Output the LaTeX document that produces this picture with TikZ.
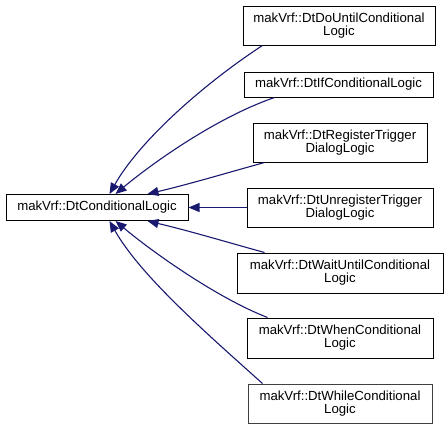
\documentclass[tikz,border=0pt]{standalone}
\usepackage{fontspec}
\setmainfont{Liberation Sans}
\usetikzlibrary{arrows.meta}
\begin{document}
\begin{tikzpicture}[x=1pt,y=-1pt,
  cls/.style={draw=black, line width=1pt, fill=white, inner sep=0pt, align=center,
    font=\fontsize{13.2}{13}\selectfont},
  edge/.style={draw={rgb,255:red,25;green,25;blue,112}, line width=1.1pt,
    {Triangle[length=11pt,width=9pt]}-}]
\useasboundingbox (0,0) rectangle (448,429);
\node[cls, minimum width=182pt, minimum height=26pt] (base) at (97,207.5) {makVrf::DtConditionalLogic};
\node[cls, minimum width=192pt, minimum height=39pt] (dou) at (339,25.5) {makVrf::DtDoUntilConditional\\Logic};
\node[cls, minimum width=189pt, minimum height=25pt] (dif) at (338.5,84.5) {makVrf::DtIfConditionalLogic};
\node[cls, minimum width=174pt, minimum height=39pt] (reg) at (340,142.5) {makVrf::DtRegisterTrigger\\DialogLogic};
\node[cls, minimum width=186pt, minimum height=39pt] (unr) at (340,207.5) {makVrf::DtUnregisterTrigger\\DialogLogic};
\node[cls, minimum width=206pt, minimum height=40pt] (wai) at (340,273) {makVrf::DtWaitUntilConditional\\Logic};
\node[cls, minimum width=186pt, minimum height=40pt] (whe) at (340,338) {makVrf::DtWhenConditional\\Logic};
\node[cls, draw=black!75, minimum width=184pt, minimum height=39pt] (whi) at (340,403.5) {makVrf::DtWhileConditional\\Logic};
% edges
\draw[edge] ([xshift=104pt]base.north west) .. controls (140,140) and (205,83) .. ([xshift=20pt]dou.south west);
\draw[edge] ([xshift=110pt]base.north west) .. controls (150,165) and (215,118) .. ([xshift=31pt]dif.south west);
\draw[edge] ([xshift=142pt]base.north west) .. controls (190,184) and (230,172) .. ([xshift=12pt]reg.south west);
\draw[edge] (base.east) -- (unr.west);
\draw[edge] ([xshift=142pt]base.south west) .. controls (190,231) and (230,243) .. ([xshift=28pt]wai.north west);
\draw[edge] ([xshift=110pt]base.south west) .. controls (150,250) and (215,297) .. ([xshift=21pt]whe.north west);
\draw[edge] ([xshift=104pt]base.south west) .. controls (140,275) and (205,332) .. ([xshift=15pt]whi.north west);
\end{tikzpicture}
\end{document}
